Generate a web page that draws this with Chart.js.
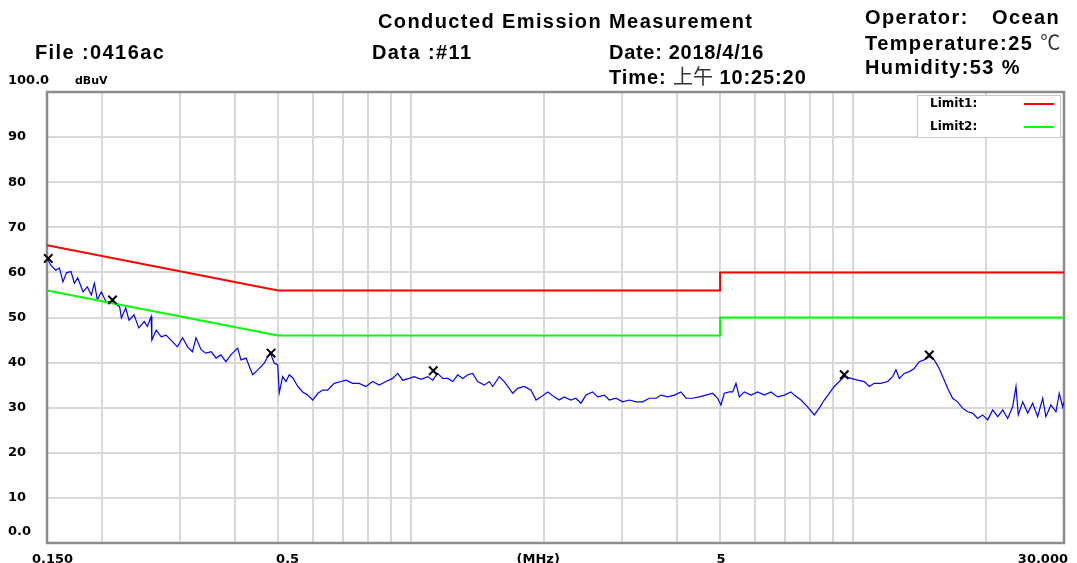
<!DOCTYPE html>
<html>
<head>
<meta charset="utf-8">
<script src="https://cdn.jsdelivr.net/npm/chart.js@4/dist/chart.umd.min.js"></script>
<style>
  body { margin: 0; background: #fff; }
  #wrap { position: relative; width: 1077px; height: 563px; overflow: hidden; }
  #chart { position: absolute; left: 0; top: 0; }
  .hd { position: absolute; font: bold 20px "Liberation Sans", Arial, sans-serif; line-height: 20px;
        letter-spacing: 1.4px; color: #000; white-space: pre; }
  .lt { font-weight: normal; font-family: "Noto Sans CJK TC", "Liberation Sans", sans-serif; color: #333; letter-spacing: 0; }
</style>
</head>
<body>
<div id="wrap">
  <canvas id="chart" width="1077" height="563"></canvas>
  <div class="hd" style="left:378px; top:11px;">Conducted Emission Measurement</div>
  <div class="hd" style="left:35px; top:42px;">File :0416ac</div>
  <div class="hd" style="left:372px; top:42px;">Data :#11</div>
  <div class="hd" style="left:609px; top:42px; letter-spacing:0.7px;">Date: 2018/4/16</div>
  <div class="hd" style="left:609px; top:66px; letter-spacing:0.9px;">Time: <span class="lt">上午</span> 10:25:20</div>
  <div class="hd" style="left:865px; top:7px;">Operator:</div>
  <div class="hd" style="left:992px; top:7px;">Ocean</div>
  <div class="hd" style="left:865px; top:32px;">Temperature:25 <span class="lt">℃</span></div>
  <div class="hd" style="left:865px; top:57px;">Humidity:53 %</div>
</div>
<script>
// measured trace (MHz / dBuV)
var freqs = [0.151,0.153,0.157,0.160,0.163,0.166,0.170,0.173,0.176,0.181,0.185,0.189,0.192,0.195,0.199,
  0.204,0.211,0.219,0.221,0.226,0.230,0.236,0.242,0.249,0.253,0.258,0.259,0.265,0.272,0.279,0.286,0.296,
  0.304,0.312,0.320,0.326,0.335,0.343,0.353,0.362,0.371,0.381,0.391,0.405,0.412,0.423,0.438,0.450,0.465,
  0.480,0.490,0.499,0.503,0.512,0.521,0.530,0.540,0.554,0.568,0.583,0.599,0.615,0.631,0.647,0.670,0.694,
  0.712,0.737,0.763,0.790,0.818,0.847,0.877,0.908,0.932,0.957,0.990,1.016,1.053,1.090,1.119,1.148,1.179,
  1.210,1.242,1.275,1.308,1.343,1.378,1.414,1.464,1.503,1.529,1.583,1.624,1.667,1.697,1.742,1.803,1.868,
  1.917,1.967,2.037,2.108,2.163,2.220,2.299,2.359,2.422,2.487,2.574,2.643,2.736,2.808,2.907,3.010,3.116,
  3.227,3.341,3.459,3.581,3.675,3.806,3.939,4.079,4.187,4.335,4.486,4.646,4.811,4.937,5.023,5.111,5.246,
  5.340,5.432,5.527,5.673,5.874,6.083,6.296,6.518,6.750,6.986,7.235,7.359,7.622,7.890,8.168,8.383,8.604,
  8.832,9.063,9.303,9.549,9.888,10.24,10.60,10.88,11.16,11.56,11.97,12.29,12.50,12.72,13.05,13.40,13.75,
  14.11,14.48,14.87,15.26,15.66,16.08,16.36,16.79,17.23,17.69,18.16,18.64,19.13,19.63,20.16,20.69,21.24,
  21.80,22.37,22.96,23.36,23.64,24.19,24.83,25.48,26.15,26.84,27.30,28.02,28.77,29.27,29.79,30.00];
var levels = [62.7,61.6,60.5,61.0,57.9,59.9,60.2,57.6,58.8,55.7,56.8,55.0,57.6,53.9,55.7,
  53.5,53.5,52.4,49.9,52.1,49.4,50.6,47.7,49.1,48.0,50.2,45.0,47.2,45.7,46.1,45.0,43.5,
  45.5,43.5,42.4,45.5,42.8,42.1,42.4,41.0,41.7,40.2,41.7,43.2,40.6,41.0,37.3,38.4,39.9,
  42.2,39.9,39.5,33.3,36.9,35.8,37.3,36.6,34.7,33.5,32.8,31.7,33.2,33.9,33.9,35.4,35.8,
  36.1,35.4,35.4,34.7,35.8,35.0,35.8,36.5,37.6,36.1,36.5,36.9,36.3,36.9,36.1,37.6,36.5,
  36.5,35.8,37.3,36.5,37.3,37.6,35.8,35.0,35.8,34.7,36.9,35.8,34.3,33.2,34.3,34.7,33.9,
  31.7,32.4,33.5,32.4,31.7,32.4,31.7,32.1,31.0,32.8,33.5,32.4,32.8,31.7,32.1,31.3,31.7,
  31.3,31.3,32.1,32.1,32.8,32.4,32.8,33.5,32.1,32.1,32.4,32.8,33.2,32.1,30.6,33.2,33.5,
  33.5,35.4,32.4,33.5,32.8,33.5,32.8,33.5,32.4,32.8,33.5,32.8,31.7,30.2,28.4,29.9,31.7,
  33.2,34.7,35.8,36.9,36.5,36.1,35.8,34.7,35.4,35.4,35.8,36.9,38.4,36.5,37.6,38.0,38.7,
  40.2,40.6,41.3,40.6,38.7,36.1,34.3,32.1,31.3,29.9,29.1,28.8,27.6,28.4,27.3,29.5,28.0,
  29.5,27.6,30.2,34.7,28.4,31.3,28.8,31.0,28.0,32.1,28.0,30.6,29.1,33.2,30.2,31.3];

// limit lines
var limitFreqs = [0.15, 0.5, 5, 5, 30];
var limit1 = [66, 56, 56, 60, 60];
var limit2 = [56, 46, 46, 50, 50];

// peak markers
var markerFreqs = [0.151, 0.211, 0.482, 1.122, 9.55, 14.87];
var markerLevels = [63.1, 53.9, 42.1, 38.2, 37.3, 41.7];

// axes
var gridFreqs = [0.15,0.2,0.3,0.4,0.5,0.6,0.7,0.8,0.9,1,2,3,4,5,6,7,8,9,10,20,30];
var xTickValues = [0.15, 0.5, 2, 5, 30];
var xTickLabels = ['0.150', '0.5', '(MHz)', '5', '30.000'];
var yTickValues = [0,10,20,30,40,50,60,70,80,90,100];
var yTickLabels = ['0.0','10','20','30','40','50','60','70','80','90','100.0'];

function pts(xs, ys) { return xs.map(function(v, i){ return {x: v, y: ys[i]}; }); }

// frame, tick labels and limit legend drawn over the plot
var emiPlugin = {
  id: 'emi',
  beforeDatasetsDraw: function(chart) {
    var a = chart.chartArea, ctx = chart.ctx;
    ctx.save();
    ctx.strokeStyle = '#8c8c8c';
    ctx.lineWidth = 2.5;
    ctx.strokeRect(a.left, a.top, a.right - a.left, a.bottom - a.top);
    ctx.restore();
  },
  afterDraw: function(chart) {
    var ctx = chart.ctx, x = chart.scales.x, y = chart.scales.y, a = chart.chartArea;
    ctx.save();
    ctx.fillStyle = '#000';
    ctx.font = 'bold 13px "DejaVu Sans"';
    ctx.textAlign = 'left';
    ctx.textBaseline = 'middle';
    yTickValues.forEach(function(v, i) {
      var py = y.getPixelForValue(v);
      if (v === 0 || v === 100) py -= 11;
      ctx.fillText(yTickLabels[i], 8, py);
    });
    ctx.font = 'bold 11px "DejaVu Sans"';
    ctx.fillText('dBuV', 75, y.getPixelForValue(100) - 11);

    ctx.font = 'bold 13px "DejaVu Sans"';
    ctx.textBaseline = 'alphabetic';
    var place = [['left', -15], ['left', -2], ['center', -6], ['center', 1], ['right', 4]];
    xTickValues.forEach(function(v, i) {
      ctx.textAlign = place[i][0];
      ctx.fillText(xTickLabels[i], x.getPixelForValue(v) + place[i][1], 563);
    });

    // legend box
    var bl = a.right - 147, bt = a.top + 3;
    ctx.fillStyle = '#fff';
    ctx.fillRect(bl, bt, 143, 42);
    ctx.strokeStyle = '#c8c8c8';
    ctx.lineWidth = 1;
    ctx.strokeRect(bl + 0.5, bt + 0.5, 143, 42);
    ctx.font = 'bold 12px "DejaVu Sans"';
    ctx.textAlign = 'left';
    ctx.textBaseline = 'middle';
    var legendSets = chart.data.datasets.filter(function(d){ return d.inLegend; });
    legendSets.forEach(function(d, i) {
      var ly = bt + 9 + i * 23;
      ctx.fillStyle = '#000';
      ctx.fillText(d.label, bl + 13, ly);
      ctx.strokeStyle = d.borderColor;
      ctx.lineWidth = 2;
      ctx.beginPath();
      ctx.moveTo(bl + 107, ly);
      ctx.lineTo(bl + 137, ly);
      ctx.stroke();
    });
    ctx.restore();
  }
};

var ctx = document.getElementById('chart').getContext('2d');
var chart = new Chart(ctx, {
  type: 'line',
  data: {
    datasets: [
      { label: 'Peaks', data: pts(markerFreqs, markerLevels), showLine: false, clip: false,
        pointStyle: 'crossRot', pointRadius: 6, borderColor: '#000', backgroundColor: '#000',
        pointBorderWidth: 2, order: 0 },
      { label: 'Limit1:', data: pts(limitFreqs, limit1), borderColor: '#ff0000', borderWidth: 2,
        pointRadius: 0, inLegend: true, order: 1 },
      { label: 'Limit2:', data: pts(limitFreqs, limit2), borderColor: '#00ff00', borderWidth: 2,
        pointRadius: 0, inLegend: true, order: 1 },
      { label: 'Level', data: pts(freqs, levels), borderColor: '#0000ff', borderWidth: 1.2,
        pointRadius: 0, order: 2 }
    ]
  },
  options: {
    responsive: false,
    animation: false,
    layout: { padding: { left: 47, right: 13, top: 92, bottom: 20 } },
    plugins: { legend: { display: false }, tooltip: { enabled: false } },
    scales: {
      x: {
        type: 'logarithmic', min: 0.15, max: 30,
        afterBuildTicks: function(s) { s.ticks = gridFreqs.map(function(v){ return {value: v}; }); },
        afterFit: function(s) { s.height = 0; },
        ticks: { display: false },
        grid: { color: '#d8d8d8', lineWidth: 2, drawTicks: false },
        border: { display: false }
      },
      y: {
        min: 0, max: 100,
        afterBuildTicks: function(s) { s.ticks = yTickValues.map(function(v){ return {value: v}; }); },
        afterFit: function(s) { s.width = 0; },
        ticks: { display: false },
        grid: { color: '#d8d8d8', lineWidth: 2, drawTicks: false },
        border: { display: false }
      }
    }
  },
  plugins: [emiPlugin]
});
</script>
</body>
</html>
